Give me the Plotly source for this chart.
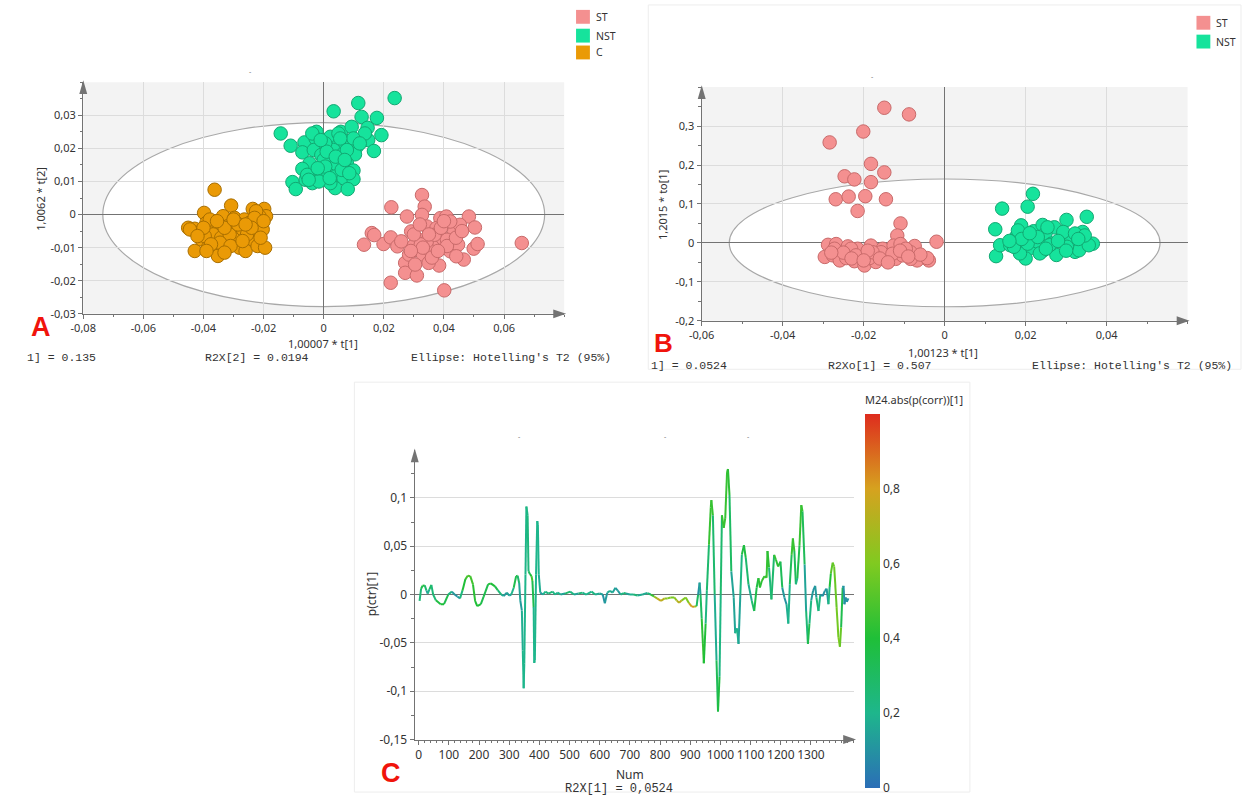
import plotly.graph_objects as go
from plotly.colors import sample_colorscale

W, H = 1242, 804

# ---------------- Panel A data (t[1], t[2]) ----------------
a_st_x = [0.0225, 0.0327, 0.0336, 0.0277, 0.0327, 0.0388, 0.0408, 0.0483, 0.0503, 0.0499, 0.0512, 0.0659,
          0.0134, 0.0160, 0.0199, 0.0223, 0.0245, 0.0271, 0.0271, 0.0223, 0.0310, 0.0384, 0.0401, 0.0466,
          0.0291, 0.0316, 0.0343, 0.0362, 0.0375, 0.0395, 0.0421, 0.0434, 0.0447, 0.0284, 0.0330, 0.0356,
          0.0297, 0.0343, 0.0453, 0.0421, 0.0304, 0.0410, 0.0369, 0.0258, 0.0349, 0.0441, 0.0168, 0.0323,
          0.0350, 0.0390, 0.0330, 0.0360, 0.0410, 0.0300, 0.0440, 0.0380, 0.0320, 0.0460, 0.0290, 0.0400]
a_st_y = [0.0022, 0.0059, 0.0024, -0.0006, -0.0001, -0.0011, -0.0006, -0.0006, -0.0039, -0.0103, -0.0089, -0.0086,
          -0.0091, -0.0056, -0.0089, -0.0069, -0.0096, -0.0146, -0.0176, -0.0206, -0.0184, -0.0154, -0.0229, -0.0136,
          -0.0051, -0.0076, -0.0036, -0.0096, -0.0041, -0.0071, -0.0111, -0.0051, -0.0091, -0.0121, -0.0121, -0.0111,
          -0.0096, -0.0081, -0.0031, -0.0021, -0.0151, -0.0076, -0.0061, -0.0081, -0.0146, -0.0126, -0.0062, -0.0090,
          -0.0060, -0.0040, -0.0100, -0.0130, -0.0095, -0.0060, -0.0070, -0.0110, -0.0030, -0.0050, -0.0110, -0.0020]
a_nst_x = [0.0236, 0.0115, 0.0033, 0.0126, 0.0177, -0.0143, -0.0024, 0.0057, 0.0093, 0.0146, 0.0192, -0.0110,
           -0.0064, -0.0027, 0.0022, 0.0049, 0.0086, 0.0110, 0.0148, 0.0167, -0.0071, -0.0033, -0.0008, 0.0033,
           0.0066, 0.0104, 0.0027, -0.0047, -0.0071, 0.0038, 0.0077, 0.0099, -0.0104, -0.0093, -0.0060, -0.0027,
           -0.0011, 0.0016, 0.0038, 0.0066, 0.0099, 0.0038, 0.0080, -0.0038, 0.0060, 0.0000, 0.0005, -0.0038,
           0.0049, 0.0137, 0.0099, 0.0022, -0.0055, -0.0016, 0.0077, 0.0005,
           0.0010, 0.0040, -0.0020, 0.0070, 0.0020, -0.0050, 0.0055, 0.0120, -0.0010, 0.0085]
a_nst_y = [0.0352, 0.0337, 0.0312, 0.0295, 0.0292, 0.0245, 0.0250, 0.0250, 0.0265, 0.0262, 0.0240, 0.0208,
           0.0218, 0.0230, 0.0235, 0.0210, 0.0223, 0.0205, 0.0225, 0.0192, 0.0188, 0.0195, 0.0180, 0.0195,
           0.0185, 0.0182, 0.0170, 0.0155, 0.0138, 0.0150, 0.0155, 0.0133, 0.0098, 0.0077, 0.0105, 0.0115,
           0.0125, 0.0120, 0.0115, 0.0110, 0.0107, 0.0080, 0.0077, 0.0095, 0.0135, 0.0165, 0.0215, 0.0245,
           0.0245, 0.0245, 0.0230, 0.0095, 0.0120, 0.0100, 0.0195, 0.0145,
           0.0190, 0.0175, 0.0140, 0.0165, 0.0110, 0.0105, 0.0230, 0.0215, 0.0225, 0.0125]
a_c_x = [-0.0363, -0.0398, -0.0308, -0.0236, -0.0198, -0.0192, -0.0451, -0.0429, -0.0412, -0.0390, -0.0374, -0.0352,
         -0.0335, -0.0319, -0.0297, -0.0280, -0.0264, -0.0247, -0.0220, -0.0203, -0.0429, -0.0407, -0.0385, -0.0363,
         -0.0346, -0.0352, -0.0324, -0.0302, -0.0280, -0.0260, -0.0236, -0.0220, -0.0195, -0.0368, -0.0341, -0.0291,
         -0.0269, -0.0396, -0.0445, -0.0313, -0.0247, -0.0214, -0.0225, -0.0291, -0.0379,
         -0.0330, -0.0285, -0.0255, -0.0230, -0.0210, -0.0345, -0.0375, -0.0400, -0.0420, -0.0310, -0.0270, -0.0240,
         -0.0355, -0.0300, -0.0200, -0.0330, -0.0260, -0.0390]
a_c_y = [0.0075, 0.0005, 0.0027, 0.0017, 0.0017, -0.0005, -0.0040, -0.0043, -0.0053, -0.0025, -0.0045, -0.0050,
         -0.0005, -0.0035, -0.0010, -0.0045, -0.0015, -0.0025, -0.0025, -0.0045, -0.0110, -0.0075, -0.0100, -0.0075,
         -0.0100, -0.0125, -0.0090, -0.0075, -0.0100, -0.0110, -0.0075, -0.0095, -0.0100, -0.0060, -0.0070, -0.0060,
         -0.0045, -0.0065, -0.0045, -0.0060, -0.0050, -0.0005, 0.0010, -0.0025, -0.0015,
         -0.0040, -0.0030, -0.0060, -0.0010, -0.0070, -0.0085, -0.0090, -0.0040, -0.0065, -0.0095, -0.0080, -0.0040,
         -0.0020, -0.0015, -0.0020, -0.0115, -0.0030, -0.0110]
a_ellipse_r = [0.0735, 0.0278]
a_xticks = [-0.08, -0.06, -0.04, -0.02, 0, 0.02, 0.04, 0.06]
a_xtext = ["-0,08", "-0,06", "-0,04", "-0,02", "0", "0,02", "0,04", "0,06"]
a_yticks = [-0.03, -0.02, -0.01, 0, 0.01, 0.02, 0.03]
a_ytext = ["-0,03", "-0,02", "-0,01", "0", "0,01", "0,02", "0,03"]

# ---------------- Panel B data (t[1], to[1]) ----------------
b_st_x = [-0.0149, -0.0088, -0.0201, -0.0284, -0.0182, -0.0149, -0.0247, -0.0223, -0.0182, -0.0269, -0.0237, -0.0196,
          -0.0145, -0.0215, -0.0109, -0.0117, -0.0020, -0.0288, -0.0268, -0.0239, -0.0215, -0.0182, -0.0153, -0.0126,
          -0.0109, -0.0074, -0.0296, -0.0276, -0.0259, -0.0243, -0.0223, -0.0202, -0.0198, -0.0170, -0.0170, -0.0145,
          -0.0121, -0.0104, -0.0084, -0.0068, -0.0039, -0.0043, -0.0231, -0.0157, -0.0096, -0.0186, -0.0129, -0.0272,
          -0.0084, -0.0219, -0.0178,
          -0.0250, -0.0190, -0.0160, -0.0110, -0.0060, -0.0230, -0.0280, -0.0140, -0.0200, -0.0090]
b_st_y = [0.347, 0.330, 0.286, 0.258, 0.203, 0.181, 0.171, 0.163, 0.156, 0.112, 0.119, 0.120,
          0.112, 0.082, 0.050, 0.019, 0.003, -0.005, -0.003, -0.009, -0.015, -0.007, -0.015, -0.007,
          -0.003, -0.008, -0.036, -0.032, -0.045, -0.039, -0.047, -0.036, -0.058, -0.031, -0.049, -0.036,
          -0.041, -0.032, -0.024, -0.045, -0.045, -0.039, -0.015, -0.024, -0.015, -0.039, -0.028, -0.015,
          -0.041, -0.032, -0.024,
          -0.025, -0.020, -0.040, -0.020, -0.030, -0.040, -0.025, -0.050, -0.045, -0.035]
b_nst_x = [0.0218, 0.0142, 0.0205, 0.0125, 0.0127, 0.0301, 0.0351, 0.0366, 0.0137, 0.0162, 0.0189, 0.0220,
           0.0242, 0.0271, 0.0249, 0.0196, 0.0210, 0.0244, 0.0276, 0.0322, 0.0341, 0.0312, 0.0264, 0.0176,
           0.0200, 0.0230, 0.0293, 0.0332, 0.0186, 0.0259, 0.0302, 0.0356, 0.0235, 0.0181, 0.0205, 0.0254,
           0.0322, 0.0346, 0.0171,
           0.0190, 0.0230, 0.0280, 0.0330, 0.0250, 0.0300, 0.0210, 0.0160]
b_nst_y = [0.126, 0.088, 0.093, 0.035, -0.034, 0.059, 0.067, -0.002, -0.006, -0.006, 0.045, 0.030,
           0.046, 0.040, 0.024, -0.010, -0.014, -0.019, -0.031, -0.023, 0.028, 0.003, -0.002, 0.015,
           -0.040, 0.003, 0.028, -0.019, -0.027, -0.006, -0.010, -0.006, -0.027, 0.032, -0.002, 0.040,
           0.024, 0.019, -0.010,
           0.010, 0.015, 0.005, 0.010, -0.015, -0.020, 0.025, 0.005]
b_ellipse_r = [0.0532, 0.164]
b_xticks = [-0.06, -0.04, -0.02, 0, 0.02, 0.04]
b_xtext = ["-0,06", "-0,04", "-0,02", "0", "0,02", "0,04"]
b_yticks = [-0.2, -0.1, 0, 0.1, 0.2, 0.3]
b_ytext = ["-0,2", "-0,1", "0", "0,1", "0,2", "0,3"]

# ---------------- Panel C data (loading line, coloured by |p(corr)|) ----------------
c_num = [3, 8, 13, 20, 26, 30, 36, 42, 48, 57, 73, 84, 98, 110, 119, 128, 137, 145, 155, 163, 171, 180, 187, 194,
         206, 215, 230, 239, 253, 262, 274, 282, 292, 300, 307, 315, 323, 328, 333, 337, 342, 345, 348, 350, 354,
         357, 361, 364, 369, 374, 377, 381, 383, 385, 389, 393, 395, 398, 403, 412, 420, 430, 444, 452, 461, 470,
         485, 502, 515, 530, 543, 555, 573, 585, 600, 610, 617, 625, 634, 643, 652, 660, 669, 680, 687, 700, 712,
         725, 742, 758, 769, 780, 790, 803, 815, 825, 835, 847, 855, 863, 872, 885, 896, 905, 913, 921, 926, 931,
         934, 938, 942, 945, 951, 955, 962, 968, 970, 975, 981, 987, 992, 997, 1001, 1005, 1011, 1016, 1022, 1025,
         1030, 1036, 1044, 1049, 1055, 1060, 1066, 1071, 1078, 1084, 1093, 1104, 1112, 1120, 1126, 1131, 1137, 1146,
         1153, 1156, 1161, 1169, 1178, 1184, 1191, 1199, 1205, 1212, 1219, 1225, 1230, 1236, 1240, 1245, 1250, 1255,
         1262, 1268, 1272, 1279, 1284, 1290, 1295, 1301, 1307, 1314, 1318, 1325, 1331, 1339, 1346, 1352, 1358, 1362,
         1366, 1372, 1377, 1385, 1391, 1396, 1400, 1405, 1408, 1411, 1415, 1419, 1424]
c_val = [-0.0065, 0.006, 0.009, 0.0095, 0.004, 0.001, 0.0055, 0.010, 0.0, -0.006, -0.010, -0.010, 0.0, 0.003, 0.0,
         -0.002, -0.004, 0.004, 0.016, 0.0195, 0.019, 0.0105, -0.0065, -0.012, -0.010, -0.0025, 0.0105, 0.0116, 0.0085,
         0.0045, 0.0, -0.0015, 0.002, -0.001, 0.0, 0.007, 0.019, 0.0195, 0.012, -0.0065, -0.0167, -0.058, -0.097,
         -0.071, 0.0208, 0.091, 0.082, 0.024, 0.021, 0.019, 0.014, -0.013, -0.0707, -0.068, 0.021, 0.076, 0.072,
         0.021, 0.002, 0.0, 0.003, 0.001, 0.003, 0.0, 0.002, 0.0, 0.001, 0.003, 0.0, 0.001, 0.002, 0.0, 0.003, 0.0,
         0.001, 0.0, -0.009, 0.002, 0.0037, 0.002, 0.007, 0.004, 0.0, 0.0015, 0.001, 0.0, 0.0, -0.001, 0.0, 0.0015,
         0.0, -0.002, -0.004, -0.0065, -0.004, -0.004, -0.003, -0.003, -0.006, -0.0085, -0.006, -0.003, -0.009,
         -0.0125, -0.0127, -0.012, 0.0, 0.0123, 0.0, -0.025, -0.051, -0.071, -0.030, 0.004, 0.0515, 0.09, 0.0976,
         0.082, 0.0, -0.068, -0.121, -0.085, 0.0, 0.082, 0.069, 0.079, 0.1266, 0.1297, 0.103, 0.024, -0.0028, -0.040,
         -0.035, -0.051, 0.0, 0.0415, 0.051, 0.038, 0.0106, -0.0066, -0.017, 0.007, 0.017, 0.0073, 0.014, 0.019,
         0.0174, 0.045, 0.028, -0.005, 0.041, 0.036, 0.029, 0.034, 0.007, -0.003, -0.010, -0.030, 0.0107, 0.041,
         0.058, 0.045, 0.0107, 0.017, 0.051, 0.0925, 0.086, 0.031, -0.017, -0.051, -0.030, -0.006, 0.0038, 0.009,
         -0.003, -0.017, 0.0, -0.0016, 0.0038, 0.006, -0.010, 0.008, 0.022, 0.033, 0.029, -0.013, -0.044, -0.054,
         -0.034, 0.007, 0.009, -0.010, -0.003, -0.0075, -0.004]
c_corr = [0.2, 0.3, 0.4, 0.4, 0.15, 0.1, 0.3, 0.35, 0.15, 0.35, 0.4, 0.4, 0.3, 0.15, 0.1, 0.1, 0.12, 0.35, 0.45, 0.5,
          0.5, 0.45, 0.4, 0.4, 0.4, 0.3, 0.4, 0.4, 0.4, 0.3, 0.2, 0.15, 0.1, 0.2, 0.1, 0.3, 0.4, 0.35, 0.2, 0.1, 0.15,
          0.2, 0.2, 0.2, 0.2, 0.22, 0.22, 0.25, 0.35, 0.45, 0.5, 0.2, 0.2, 0.2, 0.2, 0.2, 0.2, 0.2, 0.15, 0.1, 0.3,
          0.15, 0.35, 0.1, 0.3, 0.1, 0.2, 0.35, 0.1, 0.2, 0.3, 0.1, 0.3, 0.15, 0.2, 0.1, 0.1, 0.15, 0.2, 0.15, 0.15,
          0.1, 0.15, 0.3, 0.2, 0.1, 0.3, 0.2, 0.15, 0.2, 0.3, 0.6, 0.7, 0.82, 0.65, 0.6, 0.6, 0.55, 0.7, 0.75, 0.7,
          0.5, 0.7, 0.85, 0.8, 0.5, 0.1, 0.1, 0.2, 0.4, 0.45, 0.45, 0.35, 0.1, 0.45, 0.45, 0.45, 0.45, 0.1, 0.25, 0.4,
          0.35, 0.1, 0.45, 0.45, 0.45, 0.45, 0.45, 0.4, 0.2, 0.1, 0.2, 0.2, 0.2, 0.1, 0.35, 0.4, 0.35, 0.2, 0.15, 0.4,
          0.3, 0.45, 0.4, 0.45, 0.45, 0.45, 0.45, 0.4, 0.1, 0.45, 0.45, 0.4, 0.45, 0.2, 0.05, 0.15, 0.2, 0.2, 0.45,
          0.45, 0.45, 0.2, 0.25, 0.45, 0.45, 0.45, 0.2, 0.1, 0.4, 0.3, 0.15, 0.1, 0.1, 0.15, 0.35, 0.1, 0.1, 0.1, 0.1,
          0.15, 0.3, 0.5, 0.55, 0.55, 0.55, 0.6, 0.6, 0.5, 0.2, 0.1, 0.1, 0.1, 0.1, 0.1]
c_xticks = [0, 100, 200, 300, 400, 500, 600, 700, 800, 900, 1000, 1100, 1200, 1300]
c_xtext = [str(v) for v in c_xticks]
c_yticks = [-0.15, -0.1, -0.05, 0, 0.05, 0.1]
c_ytext = ["-0,15", "-0,1", "-0,05", "0", "0,05", "0,1"]
cb_ticks = [0, 0.2, 0.4, 0.6, 0.8]
cb_text = ["0", "0,2", "0,4", "0,6", "0,8"]

# ---------------- styling ----------------
COL_ST, EDGE_ST = "#f49090", "#c86a6a"
COL_NST, EDGE_NST = "#16e39c", "#12a872"
COL_C, EDGE_C = "#ea9a06", "#a86e00"
AXC = "#737373"
GRID = "#dcdcdc"
TXT = "#333333"
FONT = "Noto Sans"
MONO = "Liberation Mono"
cscale = [[0.0, "rgb(43,110,183)"], [0.2, "rgb(30,182,140)"], [0.4, "rgb(31,191,56)"],
          [0.6, "rgb(128,202,32)"], [0.8, "rgb(214,162,31)"], [1.0, "rgb(222,44,30)"]]

def dom_x(p0, p1):
    return [p0 / W, p1 / W]

def dom_y(top, bottom):
    return [1 - bottom / H, 1 - top / H]

# pixel boxes of the three plot areas: (left, right, top, bottom)
BOX_A = (71, 557, 83, 317)
BOX_B = (696, 1187, 88, 324)
BOX_C = (406, 850, 455, 747)

fig = go.Figure()

def scatter(x, y, col, edge, xa, ya):
    fig.add_trace(go.Scatter(x=x, y=y, mode="markers", xaxis=xa, yaxis=ya, showlegend=False,
                             hoverinfo="skip",
                             marker=dict(size=13.5, color=col, line=dict(color=edge, width=1))))

scatter(a_c_x, a_c_y, COL_C, EDGE_C, "x", "y")
scatter(a_nst_x, a_nst_y, COL_NST, EDGE_NST, "x", "y")
scatter(a_st_x, a_st_y, COL_ST, EDGE_ST, "x", "y")
scatter(b_nst_x, b_nst_y, COL_NST, EDGE_NST, "x2", "y2")
scatter(b_st_x, b_st_y, COL_ST, EDGE_ST, "x2", "y2")

# coloured loading line (one segment per pair of points)
for i in range(len(c_num) - 1):
    mid = (c_corr[i] + c_corr[i + 1]) / 2
    colr = sample_colorscale(cscale, [mid])[0]
    fig.add_trace(go.Scatter(x=c_num[i:i + 2], y=c_val[i:i + 2], mode="lines", xaxis="x3", yaxis="y3",
                             line=dict(color=colr, width=2), showlegend=False, hoverinfo="skip"))

# colour bar carrier
fig.add_trace(go.Scatter(
    x=[c_num[0]], y=[c_val[0]], mode="markers", xaxis="x3", yaxis="y3", showlegend=False, hoverinfo="skip",
    marker=dict(size=1, opacity=0, color=[c_corr[0]], colorscale=cscale, cmin=0, cmax=1, showscale=True,
                colorbar=dict(x=861 / W, xanchor="left", y=1 - 418 / H, yanchor="top", len=378 / H,
                              lenmode="fraction", thickness=15, thicknessmode="pixels", outlinewidth=0,
                              tickvals=cb_ticks, ticktext=cb_text, ticks="", xpad=0, ypad=0,
                              tickfont=dict(family=FONT, size=12, color=TXT)))))

def axis(rng, dom, tv, tt, minor_dt, grid=True, zero=True, anchor=None, fs=11):
    d = dict(range=rng, domain=dom, tickmode="array", tickvals=tv, ticktext=tt,
             showline=True, linecolor=AXC, linewidth=1.3, ticks="outside", ticklen=4, tickcolor=AXC,
             tickfont=dict(family=FONT, size=fs, color=TXT), showgrid=grid, gridcolor=GRID, gridwidth=1,
             zeroline=zero, zerolinecolor=AXC, zerolinewidth=1.2, fixedrange=True, anchor=anchor,
             minor=dict(tickmode="linear", tick0=0, dtick=minor_dt, ticks="outside", ticklen=2.5,
                        tickcolor=AXC, showgrid=False))
    return d

L, R, T, B = BOX_A
fig.update_layout(
    xaxis=axis([-0.08, 0.08], dom_x(L, R), a_xticks, a_xtext, 0.01, anchor="y"),
    yaxis=axis([-0.03, 0.04], dom_y(T, B), a_yticks, a_ytext, 0.005, anchor="x"),
)
L, R, T, B = BOX_B
fig.update_layout(
    xaxis2=axis([-0.06, 0.06], dom_x(L, R), b_xticks, b_xtext, 0.01, anchor="y2"),
    yaxis2=axis([-0.2, 0.4], dom_y(T, B), b_yticks, b_ytext, 0.05, anchor="x2"),
)
L, R, T, B = BOX_C
fig.update_layout(
    xaxis3=axis([-13, 1443], dom_x(L, R), c_xticks, c_xtext, 20, grid=False, zero=False, anchor="y3", fs=12),
    yaxis3=axis([-0.15, 0.149], dom_y(T, B), c_yticks, c_ytext, 0.025, anchor="x3", fs=12),
)

shapes = []
# grey plot backgrounds + white Hotelling ellipses
for xr, yr, r in (("x", "y", a_ellipse_r), ("x2", "y2", b_ellipse_r)):
    shapes.append(dict(type="rect", xref=xr + " domain", yref=yr + " domain", x0=0, x1=1, y0=0, y1=1,
                       fillcolor="#f3f3f3", line=dict(width=0), layer="below"))
    shapes.append(dict(type="circle", xref=xr, yref=yr, x0=-r[0], x1=r[0], y0=-r[1], y1=r[1],
                       fillcolor="white", line=dict(color="#a8a8a8", width=1.2), layer="below"))

def P(px, py):
    return f"{px / W:.5f},{1 - py / H:.5f}"

# axis arrows
for (L, R, T, B) in (BOX_A, BOX_B, BOX_C):
    shapes.append(dict(type="path", xref="paper", yref="paper", fillcolor=AXC, line=dict(width=0),
                       path=f"M {P(R + 2, B)} L {P(R - 11, B - 4.5)} L {P(R - 11, B + 4.5)} Z"))
    shapes.append(dict(type="path", xref="paper", yref="paper", fillcolor=AXC, line=dict(width=0),
                       path=f"M {P(L, T - 2)} L {P(L - 4, T + 12)} L {P(L + 4, T + 12)} Z"))

# faint panel frames
shapes.append(dict(type="rect", xref="paper", yref="paper", x0=642 / W, x1=1241 / W, y0=1 - 373 / H, y1=1 - 5 / H,
                   line=dict(color="#ededed", width=1), fillcolor="rgba(0,0,0,0)", layer="below"))
shapes.append(dict(type="rect", xref="paper", yref="paper", x0=345 / W, x1=967 / W, y0=1 - 800 / H, y1=1 - 386 / H,
                   line=dict(color="#ededed", width=1), fillcolor="rgba(0,0,0,0)", layer="below"))

# legend squares
legend_items = [("ST", COL_ST, 576, 17), ("NST", COL_NST, 576, 36), ("C", COL_C, 576, 53),
                ("ST", COL_ST, 1203, 23), ("NST", COL_NST, 1203, 42)]
annotations = []
for name, col, cx, cy in legend_items:
    shapes.append(dict(type="rect", xref="paper", yref="paper", x0=(cx - 7) / W, x1=(cx + 7) / W,
                       y0=1 - (cy + 7) / H, y1=1 - (cy - 7) / H, fillcolor=col, line=dict(width=0)))
    annotations.append(dict(text=name, x=(cx + 11) / W, y=1 - cy / H, xref="paper", yref="paper",
                            xanchor="left", yanchor="middle", showarrow=False,
                            font=dict(family=FONT, size=10.5, color=TXT)))

def note(text, px, py, size=11, family=FONT, color=TXT, xanchor="center", angle=0, bold=False):
    if bold:
        text = "<b>" + text + "</b>"
    annotations.append(dict(text=text, x=px / W, y=1 - py / H, xref="paper", yref="paper", xanchor=xanchor,
                            yanchor="middle", showarrow=False, textangle=angle,
                            font=dict(family=family, size=size, color=color)))

# axis titles
note("1,00007 * t[1]", 313, 347)
note("1,0062 * t[2]", 27, 201, angle=-90)
note("1,00123 * t[1]", 940, 356)
note("1,2015 * to[1]", 657, 207, angle=-90)
note("Num", 624, 782, size=12)
note("p(ctr)[1]", 362, 600, size=12, angle=-90)
note("M24.abs(p(corr))[1]", 859, 404, xanchor="left")

# statistics lines
note("1] = 0.135", 12, 361, size=11.5, family=MONO, xanchor="left")
note("R2X[2] = 0.0194", 192, 361, size=11.5, family=MONO, xanchor="left")
note("Ellipse: Hotelling's T2 (95%)", 400, 361, size=11.5, family=MONO, xanchor="left")
note("1] = 0.0524", 643, 369, size=11.5, family=MONO, xanchor="left")
note("R2Xo[1] = 0.507", 822, 369, size=11.5, family=MONO, xanchor="left")
note("Ellipse: Hotelling's T2 (95%)", 1028, 369, size=11.5, family=MONO, xanchor="left")
note("R2X[1] = 0,0524", 612, 797, size=12, family=MONO)

# tiny title dashes
for dx, dy in ((240, 72), (868, 77), (511, 441), (659, 441), (743, 441)):
    note("-", dx, dy, size=7, color="#777777")

# panel letters
note("A", 28, 330, size=27, family="Liberation Sans", color="#f0140c", bold=True)
note("B", 657, 346, size=26, family="Liberation Sans", color="#f0140c", bold=True)
note("C", 382, 781, size=27, family="Liberation Sans", color="#f0140c", bold=True)

fig.update_layout(
    width=W, height=H, autosize=False,
    margin=dict(l=0, r=0, t=0, b=0),
    paper_bgcolor="white", plot_bgcolor="white",
    showlegend=False,
    shapes=shapes, annotations=annotations,
    font=dict(family=FONT, size=11, color=TXT),
)

fig.write_html("out.html")
